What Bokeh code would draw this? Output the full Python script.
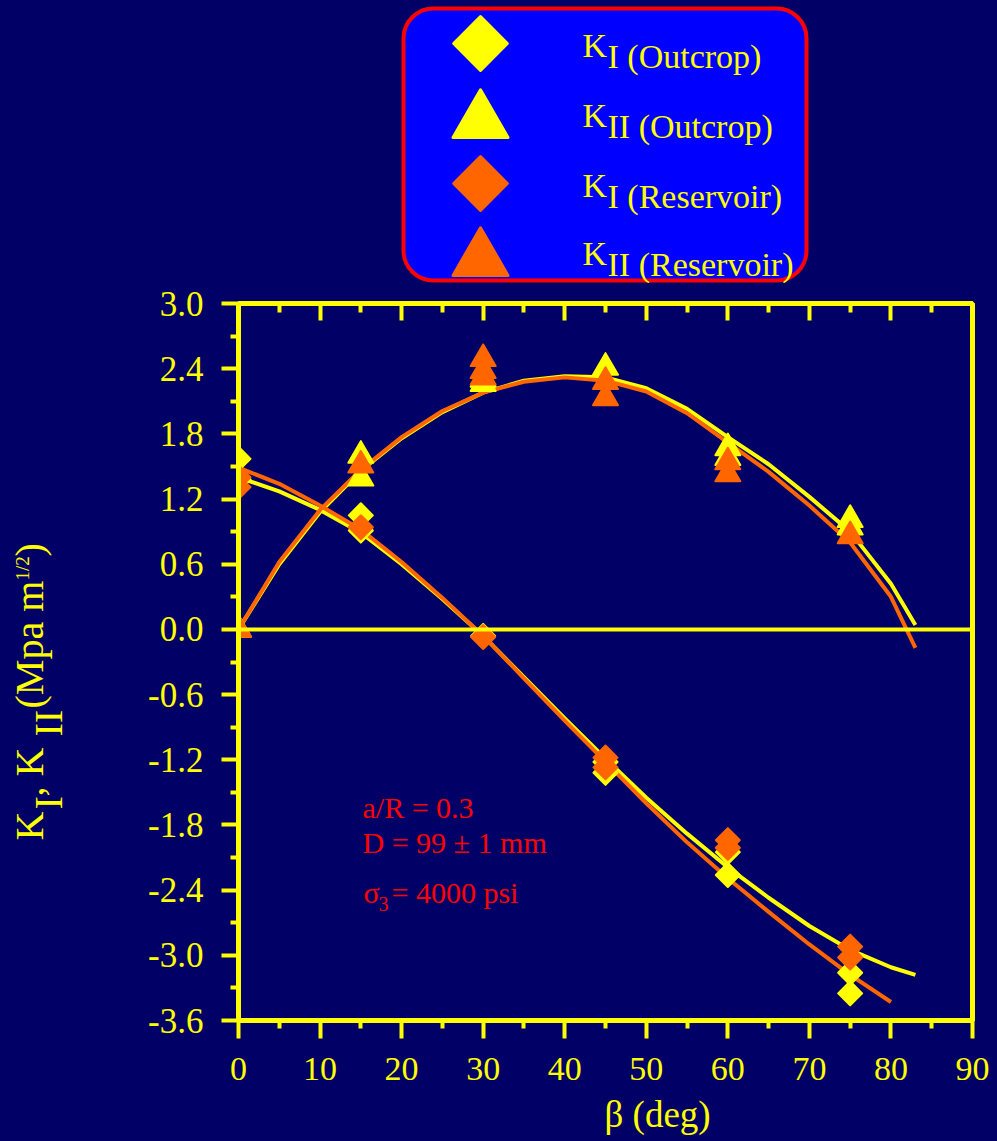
import numpy as np
from bokeh.plotting import figure
from bokeh.models import (Range1d, FixedTicker, LinearAxis, Span, Label,
                          BoxAnnotation)
from bokeh.layouts import column, row
from bokeh.embed import file_html
from bokeh.resources import INLINE

# ---------------- data ----------------
x_ticks = [0, 10, 20, 30, 40, 50, 60, 70, 80, 90]
x_minor = [5, 15, 25, 35, 45, 55, 65, 75, 85]
y_ticks = [-3.6, -3.0, -2.4, -1.8, -1.2, -0.6, 0.0, 0.6, 1.2, 1.8, 2.4, 3.0]
y_tick_labels = ["-3.6", "-3.0", "-2.4", "-1.8", "-1.2", "-0.6", "0.0",
                 "0.6", "1.2", "1.8", "2.4", "3.0"]
y_minor = [-3.3, -2.7, -2.1, -1.5, -0.9, -0.3, 0.3, 0.9, 1.5, 2.1, 2.7]

# measured points
ki_out_beta = [0, 0, 15, 15, 30, 45, 45, 60, 60, 75, 75]
ki_out_val = [1.57, 1.38, 1.05, 0.91, -0.06, -1.32, -1.22, -2.26, -2.05, -3.16, -3.35]
ki_res_beta = [0, 0, 15, 30, 45, 45, 60, 60, 75, 75]
ki_res_val = [1.40, 1.31, 0.94, -0.07, -1.18, -1.27, -1.94, -2.01, -2.92, -3.02]
kii_out_beta = [0, 15, 15, 30, 30, 45, 60, 60, 75, 75]
kii_out_val = [0.0, 1.60, 1.39, 2.26, 2.30, 2.41, 1.67, 1.58, 1.01, 0.94]
kii_res_beta = [0, 15, 30, 30, 30, 45, 45, 60, 60, 75]
kii_res_val = [0.0, 1.51, 2.49, 2.38, 2.32, 2.28, 2.13, 1.54, 1.43, 0.86]

# fitted curves
fit_beta_out = [0, 5, 10, 15, 20, 25, 30, 35, 40, 45, 50, 55, 60, 65, 70, 75, 80, 83]
ki_fit_out = [1.40, 1.27, 1.10, 0.89, 0.60, 0.28, -0.06, -0.44, -0.82, -1.19,
              -1.55, -1.88, -2.19, -2.47, -2.73, -2.95, -3.11, -3.18]
kii_fit_out = [0.0, 0.60, 1.08, 1.46, 1.76, 2.00, 2.18, 2.29, 2.33, 2.32,
               2.22, 2.03, 1.77, 1.52, 1.22, 0.90, 0.42, 0.04]
fit_beta_res_ki = [0, 5, 10, 15, 20, 25, 30, 35, 40, 45, 50, 55, 60, 65, 70, 75, 80]
ki_fit_res = [1.49, 1.34, 1.14, 0.92, 0.62, 0.29, -0.06, -0.45, -0.84, -1.22,
              -1.60, -1.96, -2.29, -2.60, -2.90, -3.18, -3.43]
fit_beta_res_kii = [0, 5, 10, 15, 20, 25, 30, 35, 40, 45, 50, 55, 60, 65, 70, 75, 80, 83]
kii_fit_res = [0.0, 0.62, 1.10, 1.47, 1.77, 2.01, 2.18, 2.28, 2.32, 2.29,
               2.19, 1.99, 1.72, 1.45, 1.14, 0.80, 0.30, -0.17]

legend_main = ["K", "K", "K", "K"]
legend_sub = ["I (Outcrop)", "II (Outcrop)", "I (Reservoir)", "II (Reservoir)"]

y_title_main = ["K", ", K", "(Mpa m", ")"]
y_title_sub = ["I", "II"]
y_title_sup = "1/2"
x_title = "β (deg)"
notes = ["a/R = 0.3", "D = 99 ± 1 mm"]
sigma_note = ["σ", "3", "= 4000 psi"]

# ---------------- style / layout constants ----------------
NAVY = "#000066"
YELLOW = "#FFFF00"
ORANGE = "#FF6600"
RED = "#FF0000"
BLUE = "#0000FF"
FONT = "Liberation Serif"
BASE_FIX = 0.35                 # measured offset of the drawn baseline, in em

TOTAL_W, TOTAL_H = 997, 1141
YT_W = 100                      # left strip holding the y title
COL_W = TOTAL_W - YT_W
LEG_H = 283                     # legend strip above the plot
BOT_H = 46                      # strip below the plot holding the x title
MAIN_H = TOTAL_H - LEG_H - BOT_H
FRAME_L, FRAME_R, FRAME_T, FRAME_B = 238, 972, 303, 1020


def blank(width, height, xr, yr):
    f = figure(width=width, height=height, x_range=Range1d(*xr), y_range=Range1d(*yr),
               output_backend="svg", toolbar_location=None, min_border=0,
               x_axis_type=None, y_axis_type=None,
               background_fill_color=None, border_fill_color=None,
               outline_line_color=None)
    f.grid.visible = False
    return f


def put(fig, text, x, y, size, color, angle=0.0):
    fig.add_layout(Label(x=x, y=y, text=text, text_font=FONT, text_font_size=f"{size}px",
                         text_color=color, text_align="left",
                         text_baseline="alphabetic", angle=angle))


# ---------------- y-title strip (rotated; baseline is a vertical line) ----------------
yf = blank(YT_W, TOTAL_H, (0, YT_W), (0, TOTAL_H))
R = np.pi / 2
main_pos = [(43, 840), (43, 796), (43, 708), (43, 556)]
sub_pos = [(62, 809), (62, 736)]
for t, (px, py) in zip(y_title_main, main_pos):
    put(yf, t, px - BASE_FIX * 40, TOTAL_H - py, 40, YELLOW, R)
for t, (px, py) in zip(y_title_sub, sub_pos):
    put(yf, t, px - BASE_FIX * 40, TOTAL_H - py, 40, YELLOW, R)
put(yf, y_title_sup, 29 - BASE_FIX * 19, TOTAL_H - 580, 19, YELLOW, R)

# ---------------- legend strip (frame aligned with plot frame) ----------------
lf = blank(COL_W, LEG_H, (FRAME_L, FRAME_R), (0, LEG_H))


def ly(py, size=0):
    return LEG_H - (py - BASE_FIX * size)


lf.add_layout(BoxAnnotation(left=403, right=806, bottom=ly(280), top=ly(8),
                            fill_color=BLUE, fill_alpha=1.0,
                            line_color=RED, line_alpha=1.0, line_width=4,
                            border_radius=30, level="underlay"))

row_y = [43, 113, 183, 251]
mk_colors = [YELLOW, YELLOW, ORANGE, ORANGE]
mk_types = ["d", "t", "d", "t"]
for i in range(4):
    if mk_types[i] == "d":
        lf.scatter([480], [ly(row_y[i])], marker="square", angle=np.pi / 4, size=38,
                   fill_color=mk_colors[i], line_color=mk_colors[i], line_width=3,
                   line_join="round")
    else:
        lf.scatter([480], [ly(row_y[i] + 8)], marker="triangle", size=55,
                   fill_color=mk_colors[i], line_color=mk_colors[i], line_width=3,
                   line_join="round")
    put(lf, legend_main[i], 582, ly(row_y[i] + 14, 34), 34, YELLOW)
    put(lf, legend_sub[i], 607, ly(row_y[i] + 25, 34), 34, YELLOW)

# ---------------- x-title strip ----------------
bf = blank(COL_W, BOT_H, (FRAME_L, FRAME_R), (0, BOT_H))
put(bf, x_title, 604, TOTAL_H - (1127 - BASE_FIX * 37), 37, YELLOW)

# ---------------- main plot ----------------
p = figure(width=COL_W, height=MAIN_H, x_range=Range1d(0, 90), y_range=Range1d(-3.6, 3.0),
           output_backend="svg", toolbar_location=None,
           min_border_left=FRAME_L - YT_W, min_border_right=TOTAL_W - FRAME_R,
           min_border_top=FRAME_T - LEG_H,
           min_border_bottom=(TOTAL_H - BOT_H) - FRAME_B,
           background_fill_color=NAVY, border_fill_color=NAVY,
           outline_line_color=YELLOW, outline_line_width=5)
p.grid.visible = False

xa = p.xaxis[0]
xa.ticker = FixedTicker(ticks=x_ticks, minor_ticks=x_minor)
ya = p.yaxis[0]
ya.ticker = FixedTicker(ticks=y_ticks, minor_ticks=y_minor)
ya.major_label_overrides = {t: s for t, s in zip(y_ticks, y_tick_labels)}

for ax in (xa, ya):
    ax.axis_line_color = YELLOW
    ax.axis_line_width = 5
    ax.major_tick_line_color = YELLOW
    ax.major_tick_line_width = 4
    ax.minor_tick_line_color = YELLOW
    ax.minor_tick_line_width = 4
    ax.major_tick_in = 0
    ax.minor_tick_in = 0
    ax.major_label_text_color = YELLOW
    ax.major_label_text_font = FONT
xa.major_label_text_font_size = "34px"
ya.major_label_text_font_size = "35px"
xa.major_tick_out = 18
xa.minor_tick_out = 8
xa.major_label_standoff = 19
ya.major_tick_out = 17
ya.minor_tick_out = 8
ya.major_label_standoff = 18

top = LinearAxis(ticker=FixedTicker(ticks=x_ticks, minor_ticks=x_minor))
top.axis_line_color = YELLOW
top.axis_line_width = 5
top.major_tick_line_color = YELLOW
top.major_tick_line_width = 4
top.minor_tick_line_color = YELLOW
top.minor_tick_line_width = 4
top.major_tick_in = 17
top.major_tick_out = 0
top.minor_tick_in = 9
top.minor_tick_out = 0
top.major_label_overrides = {t: "" for t in x_ticks}
top.major_label_text_font_size = "1px"
top.major_label_standoff = 0
p.add_layout(top, "above")

p.add_layout(Span(location=0, dimension="width", line_color=YELLOW, line_width=4))

# fitted curves
p.line(fit_beta_out, ki_fit_out, line_color=YELLOW, line_width=4, line_join="round")
p.line(fit_beta_out, kii_fit_out, line_color=YELLOW, line_width=4, line_join="round")
p.line(fit_beta_res_ki, ki_fit_res, line_color=ORANGE, line_width=4, line_join="round")
p.line(fit_beta_res_kii, kii_fit_res, line_color=ORANGE, line_width=4, line_join="round")

# measured points
p.scatter(ki_out_beta, ki_out_val, marker="square", angle=np.pi / 4, size=17,
          fill_color=YELLOW, line_color=YELLOW, line_width=2, line_join="round")
p.scatter(kii_out_beta, kii_out_val, marker="triangle", size=25,
          fill_color=YELLOW, line_color=YELLOW, line_width=2, line_join="round")
p.scatter(ki_res_beta, ki_res_val, marker="square", angle=np.pi / 4, size=17,
          fill_color=ORANGE, line_color=ORANGE, line_width=2, line_join="round")
p.scatter(kii_res_beta, kii_res_val, marker="triangle", size=25,
          fill_color=ORANGE, line_color=ORANGE, line_width=2, line_join="round")


def lab(text, px, py, size, color):
    p.add_layout(Label(x=px - FRAME_L, y=FRAME_B - (py - BASE_FIX * size),
                       x_units="screen", y_units="screen",
                       text=text, text_font=FONT, text_font_size=f"{size}px",
                       text_color=color, text_align="left",
                       text_baseline="alphabetic"))


# annotations
lab(notes[0], 362, 817, 30, RED)
lab(notes[1], 362, 852, 30, RED)
lab(sigma_note[0], 363, 902, 30, RED)
lab(sigma_note[1], 378, 910, 20, RED)
lab(sigma_note[2], 391, 902, 30, RED)

layout = row(yf, column(lf, p, bf, spacing=0), spacing=0)
html = file_html(layout, INLINE)
style = "<style>html,body{margin:0;padding:0;background:#000066;}</style>"
html = html.replace("</head>", style + "</head>", 1)
open("out.html", "w").write(html)
